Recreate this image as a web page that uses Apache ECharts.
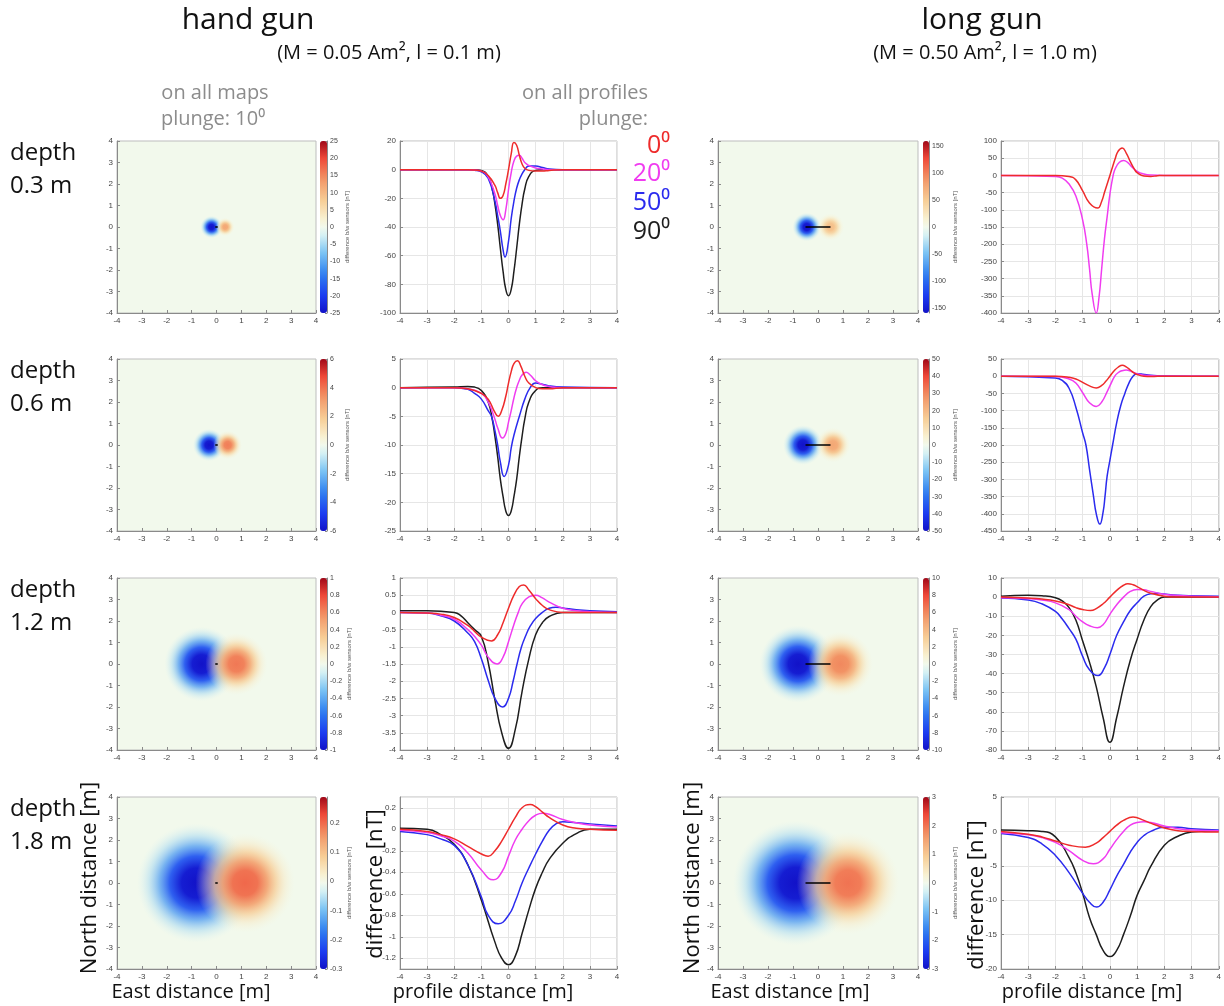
<!DOCTYPE html>
<html>
<head>
<meta charset="utf-8">
<title>hand gun / long gun</title>
<script src="https://cdn.jsdelivr.net/npm/echarts@6/dist/echarts.min.js"></script>
<style>
html, body { margin: 0; padding: 0; background: #fff; }
#main { width: 1224px; height: 1006px; }
</style>
</head>
<body>
<div id="main"></div>
<script>
// profiles: [profile distance m, difference nT], plunge 0 / 20 / 50 / 90 deg
var hand03Red = [[-4,0],[-1.5,0],[-1.25,-0.3],[-1,-1],[-0.75,-4],[-0.5,-11],[-0.4,-16],[-0.3,-20],[-0.2,-18],[-0.1,-10],[0,0],[0.1,11],[0.2,19],[0.3,17],[0.4,10],[0.5,4],[0.6,1],[0.75,-0.5],[1,-1],[1.25,-1],[1.5,-0.5],[2,0],[4,0]];
var hand03Mag = [[-4,0],[-1.5,0],[-1.25,-0.3],[-1,-1],[-0.75,-5],[-0.5,-17],[-0.4,-25],[-0.3,-32],[-0.2,-35],[-0.1,-28],[0,-14],[0.1,-2],[0.2,6],[0.3,9.5],[0.4,10],[0.5,8],[0.6,5],[0.75,3],[1,1.2],[1.25,0.5],[1.5,0],[4,0]];
var hand03Blue = [[-4,0],[-1.5,0],[-1.25,-0.4],[-1,-1.5],[-0.75,-6],[-0.5,-22],[-0.4,-32],[-0.3,-43],[-0.2,-56],[-0.13,-61],[0,-50],[0.1,-34],[0.2,-22],[0.3,-13],[0.4,-7],[0.5,-3],[0.6,0],[0.75,2.5],[1,2.5],[1.25,1.5],[1.5,0.5],[2,0],[4,0]];
var hand03Black = [[-4,0],[-1.25,0],[-1,-0.5],[-0.75,-4.7],[-0.6,-13.5],[-0.5,-24],[-0.4,-38],[-0.3,-55],[-0.2,-71],[-0.1,-83.5],[0,-88],[0.1,-83.5],[0.2,-71],[0.3,-55],[0.4,-38],[0.5,-24],[0.6,-13.5],[0.75,-4.7],[1,-0.5],[1.25,0],[4,0]];

var hand06Red = [[-4,0],[-2,0],[-1.5,-0.2],[-1,-1],[-0.75,-2],[-0.5,-4.3],[-0.38,-5],[-0.25,-4],[-0.1,-1.5],[0,0.8],[0.1,2.8],[0.2,4.2],[0.33,4.7],[0.45,3.8],[0.6,2],[0.75,0.8],[1,0],[1.25,-0.2],[1.5,-0.2],[2,0],[4,0]];
var hand06Mag = [[-4,0],[-2,0],[-1.5,-0.2],[-1,-1],[-0.75,-2.5],[-0.5,-5.5],[-0.4,-7],[-0.22,-8.8],[-0.1,-8],[0,-6],[0.1,-4],[0.2,-1.8],[0.3,0],[0.4,1.3],[0.5,2.2],[0.65,2.7],[0.8,2.2],[1,1.2],[1.25,0.5],[1.5,0.2],[2,0],[4,0]];
var hand06Blue = [[-4,0],[-2,0],[-1.5,-0.3],[-1.25,-1],[-1,-2],[-0.75,-4],[-0.63,-5],[-0.5,-7.5],[-0.4,-10],[-0.3,-13],[-0.16,-15.5],[0,-13.5],[0.1,-10.5],[0.2,-8.3],[0.4,-5],[0.6,-2],[0.8,0],[1,0.8],[1.25,0.6],[1.5,0.3],[2,0.1],[4,0]];
var hand06Black = [[-4,0],[-2,0.1],[-1.5,0.2],[-1.25,0.1],[-1,-0.5],[-0.75,-2.5],[-0.6,-5.5],[-0.5,-8.5],[-0.4,-12],[-0.3,-16],[-0.2,-19],[-0.1,-21.5],[0,-22.3],[0.1,-21.5],[0.2,-19],[0.3,-16],[0.4,-12],[0.5,-8.5],[0.6,-5.5],[0.75,-2.5],[1,-0.5],[1.25,0],[4,0]];

var hand12Red = [[-4,0],[-3,-0.02],[-2.5,-0.05],[-2,-0.15],[-1.5,-0.38],[-1.25,-0.55],[-1,-0.72],[-0.63,-0.83],[-0.4,-0.65],[-0.2,-0.3],[0,0.12],[0.2,0.5],[0.4,0.75],[0.56,0.8],[0.75,0.65],[1,0.4],[1.25,0.2],[1.5,0.08],[2,0],[4,0]];
var hand12Mag = [[-4,0],[-3,-0.02],[-2.5,-0.08],[-2,-0.2],[-1.5,-0.5],[-1.25,-0.7],[-1,-0.95],[-0.75,-1.3],[-0.42,-1.5],[-0.2,-1.3],[0,-0.85],[0.2,-0.35],[0.36,0],[0.5,0.25],[0.75,0.45],[1,0.5],[1.25,0.42],[1.5,0.3],[2,0.12],[2.5,0.05],[3,0.02],[4,0]];
var hand12Blue = [[-4,0],[-3,-0.02],[-2.5,-0.1],[-2,-0.25],[-1.5,-0.6],[-1.25,-0.85],[-1,-1.35],[-0.75,-1.97],[-0.5,-2.5],[-0.22,-2.75],[0,-2.5],[0.17,-2],[0.3,-1.55],[0.48,-1],[0.65,-0.65],[0.8,-0.4],[1,-0.18],[1.25,0],[1.5,0.12],[1.75,0.15],[2,0.13],[2.5,0.08],[3,0.05],[4,0.02]];
var hand12Black = [[-4,0.05],[-3,0.05],[-2,0],[-1.75,-0.1],[-1.5,-0.3],[-1.25,-0.5],[-1,-0.7],[-0.75,-1.45],[-0.5,-2.55],[-0.25,-3.5],[0,-3.95],[0.25,-3.4],[0.5,-2.3],[0.75,-1.35],[1,-0.65],[1.25,-0.3],[1.5,-0.12],[2,0],[4,0]];

var hand18Red = [[-4,0],[-3,-0.02],[-2.5,-0.05],[-2,-0.09],[-1.5,-0.16],[-1,-0.23],[-0.75,-0.25],[-0.5,-0.2],[-0.25,-0.11],[0,0],[0.25,0.11],[0.5,0.2],[0.8,0.23],[1,0.21],[1.25,0.16],[1.5,0.11],[2,0.04],[2.5,0.01],[3,0],[4,-0.01]];
var hand18Mag = [[-4,-0.01],[-3,-0.03],[-2.5,-0.06],[-2,-0.11],[-1.5,-0.22],[-1,-0.38],[-0.56,-0.47],[-0.25,-0.4],[0,-0.25],[0.25,-0.1],[0.5,0],[0.75,0.08],[1,0.13],[1.25,0.15],[1.5,0.14],[2,0.09],[2.5,0.06],[3,0.04],[4,0.02]];
var hand18Blue = [[-4,-0.02],[-3,-0.05],[-2.5,-0.09],[-2,-0.15],[-1.5,-0.33],[-1,-0.63],[-0.75,-0.8],[-0.38,-0.88],[0,-0.8],[0.25,-0.67],[0.5,-0.5],[0.75,-0.36],[1,-0.23],[1.25,-0.11],[1.5,-0.01],[1.75,0.05],[2,0.07],[2.5,0.06],[3,0.05],[4,0.03]];
var hand18Black = [[-4,0.01],[-3,0],[-2.5,-0.05],[-2,-0.14],[-1.5,-0.33],[-1,-0.66],[-0.5,-1.05],[-0.25,-1.2],[0,-1.26],[0.25,-1.18],[0.5,-0.97],[0.75,-0.75],[1,-0.55],[1.25,-0.4],[1.5,-0.28],[2,-0.13],[2.5,-0.04],[3,0],[4,0]];

var long03Red = [[-4,0],[-2,0],[-1.5,-3],[-1.25,-13],[-1,-45],[-0.75,-80],[-0.45,-95],[-0.3,-75],[-0.2,-50],[-0.1,-25],[0,0],[0.1,25],[0.2,50],[0.3,70],[0.45,80],[0.6,65],[0.75,40],[0.9,18],[1,8],[1.25,-2],[1.5,-3],[1.75,-1],[2,0],[4,0]];
var long03Mag = [[-4,0],[-2,-3],[-1.75,-8],[-1.5,-25],[-1.25,-60],[-1,-130],[-0.85,-200],[-0.75,-270],[-0.65,-345],[-0.5,-400],[-0.4,-355],[-0.3,-270],[-0.2,-185],[-0.1,-120],[0,-55],[0.12,0],[0.2,20],[0.35,38],[0.5,43],[0.65,38],[0.8,25],[1,12],[1.25,4],[1.5,1],[2,0],[4,0]];

var long06Red = [[-4,0],[-2,0],[-1.5,-3],[-1.25,-8],[-1,-18],[-0.75,-28],[-0.5,-34],[-0.3,-27],[-0.15,-15],[0,0],[0.15,15],[0.3,26],[0.46,32],[0.6,27],[0.75,18],[0.9,9],[1,5],[1.25,0],[1.5,-1],[2,0],[4,0]];
var long06Mag = [[-4,0],[-2,-1],[-1.5,-8],[-1.25,-20],[-1,-48],[-0.75,-77],[-0.5,-88],[-0.3,-75],[-0.1,-45],[0,-28],[0.18,0],[0.3,10],[0.45,16],[0.6,18],[0.75,15],[0.9,10],[1,7],[1.25,3],[1.5,1.5],[2,0.5],[4,0]];
var long06Blue = [[-4,0],[-2,-5],[-1.75,-12],[-1.5,-35],[-1.25,-90],[-1,-165],[-0.88,-200],[-0.75,-270],[-0.6,-350],[-0.5,-400],[-0.37,-430],[-0.25,-395],[-0.18,-350],[-0.1,-290],[0,-245],[0.1,-200],[0.25,-135],[0.4,-85],[0.55,-50],[0.7,-20],[0.85,0],[1,7],[1.2,6],[1.5,3],[2,1],[3,0],[4,0]];

var long12Red = [[-4,0],[-3,-0.5],[-2.5,-1],[-2,-2],[-1.5,-4],[-1.25,-5.5],[-1,-6.5],[-0.71,-7],[-0.5,-6],[-0.25,-3.5],[0,0],[0.25,3.5],[0.5,6.2],[0.66,7],[0.85,6.5],[1,5.5],[1.25,3.5],[1.5,2],[2,0.5],[2.5,0],[4,0]];
var long12Mag = [[-4,-0.3],[-3,-0.8],[-2.5,-1.5],[-2,-3],[-1.5,-6.5],[-1.25,-10],[-1,-13],[-0.75,-15],[-0.46,-16],[-0.25,-14.5],[0,-9],[0.25,-4],[0.5,0],[0.75,3],[1,4],[1.25,3.8],[1.5,3],[2,1.5],[2.5,0.8],[3,0.5],[4,0.2]];
var long12Blue = [[-4,-0.5],[-3,-1.5],[-2.5,-3.5],[-2,-7.5],[-1.75,-11.5],[-1.5,-16.5],[-1.25,-22],[-1,-31],[-0.75,-38],[-0.43,-41],[-0.2,-37],[0,-30],[0.25,-20],[0.5,-13],[0.75,-7],[1,-3],[1.25,0.5],[1.5,1.8],[1.75,2],[2,1.6],[2.5,1],[3,0.7],[4,0.4]];
var long12Black = [[-4,0.5],[-3,1],[-2.5,0.7],[-2,-0.3],[-1.75,-2],[-1.5,-5.5],[-1.25,-12],[-1,-23],[-0.75,-34],[-0.5,-47],[-0.25,-63],[0,-76],[0.25,-63],[0.5,-47],[0.75,-33],[1,-22],[1.25,-12],[1.5,-5],[1.75,-1.5],[2,0],[3,0],[4,0]];

var long18Red = [[-4,0],[-3,-0.4],[-2.5,-0.8],[-2,-1.4],[-1.5,-2],[-0.9,-2.3],[-0.5,-1.7],[-0.25,-0.9],[0,0],[0.25,0.9],[0.5,1.6],[0.85,2.1],[1.25,1.6],[1.5,1.2],[2,0.5],[2.5,0.1],[3,0],[4,-0.1]];
var long18Mag = [[-4,-0.2],[-3,-0.5],[-2.5,-0.9],[-2,-1.6],[-1.5,-2.8],[-1,-4.2],[-0.61,-4.7],[-0.25,-4],[0,-2.6],[0.25,-1.2],[0.5,0],[0.75,0.9],[1,1.3],[1.25,1.4],[1.5,1.3],[2,0.8],[2.5,0.4],[3,0.2],[4,0.1]];
var long18Blue = [[-4,-0.3],[-3,-0.9],[-2.5,-1.8],[-2,-3.5],[-1.5,-6],[-1,-9],[-0.75,-10.3],[-0.49,-11],[-0.25,-10.3],[0,-8.5],[0.25,-6.5],[0.5,-4.8],[0.75,-3],[1,-1.6],[1.25,-0.6],[1.5,0],[2,0.6],[2.5,0.6],[3,0.4],[4,0.2]];
var long18Black = [[-4,0.2],[-3,0.1],[-2.5,0],[-2,-0.8],[-1.5,-3.8],[-1.25,-6],[-1,-9],[-0.75,-12.5],[-0.5,-15],[-0.25,-17.3],[0,-18.2],[0.25,-17.3],[0.5,-15],[0.75,-12.3],[1,-9.3],[1.25,-7.2],[1.5,-5.1],[2,-2],[2.5,-0.7],[3,-0.1],[4,0.1]];

// maps: anomaly blobs [east m, north m, peak nT, diameter m]
var hand03Blobs = [[-0.2,0,-25,0.9],[0.35,0,12,0.75]];
var hand06Blobs = [[-0.3,0,-6,1.3],[0.45,0,3.8,1.15]];
var hand12Blobs = [[-0.6,0,-1,3.0],[0.8,0,0.65,2.5]];
var hand18Blobs = [[-0.8,0,-0.3,4.8],[1.15,0,0.21,4.0]];
var long03Blobs = [[-0.45,0,-160,1.15],[0.5,0,60,1.1]];
var long06Blobs = [[-0.6,0,-50,1.6],[0.6,0,24,1.4]];
var long12Blobs = [[-0.8,0,-10,3.1],[0.9,0,6,2.6]];
var long18Blobs = [[-0.9,0,-3,5.0],[1.2,0,2,4.1]];
// gun on the map (east m, north m)
var gunHand = [[-0.05,0],[0.05,0]];
var gunLong = [[-0.5,0],[0.5,0]];

var depthLabels = ['0.3 m', '0.6 m', '1.2 m', '1.8 m'];
var plungeLabels = ['0⁰', '20⁰', '50⁰', '90⁰'];
var lineColors = ['#ee2b2b', '#f03cf0', '#2b2bee', '#1e1e1e'];

// axis ranges
var mapRange = {min: -4, max: 4, interval: 1};
var handProfRange = [{min:-100,max:20,interval:20},{min:-25,max:5,interval:5},{min:-4,max:1,interval:0.5},{min:-1.3,max:0.3,split:8,hideMin:true,hideMax:true}];
var longProfRange = [{min:-400,max:100,interval:50},{min:-450,max:50,interval:50},{min:-80,max:10,interval:10},{min:-20,max:5,interval:5}];
var handBarRange = [{min:-25,max:25,interval:5},{min:-6,max:6,interval:2},{min:-1,max:1,interval:0.2},{min:-0.3,max:0.29,split:6,hideMax:true}];
var longBarRange = [{min:-160,max:160,split:6,hideMin:true,hideMax:true},{min:-50,max:50,interval:10},{min:-10,max:10,interval:2},{min:-3,max:3,interval:1}];

var panels = {
    hand: {
        profiles: [[hand03Red,hand03Mag,hand03Blue,hand03Black],[hand06Red,hand06Mag,hand06Blue,hand06Black],[hand12Red,hand12Mag,hand12Blue,hand12Black],[hand18Red,hand18Mag,hand18Blue,hand18Black]],
        blobs: [hand03Blobs,hand06Blobs,hand12Blobs,hand18Blobs],
        gun: gunHand, profRange: handProfRange, barRange: handBarRange,
        map: 117, mapW: 199, bar: 320, barW: 7, nameGap: 17, prof: 400, profW: 217
    },
    long: {
        profiles: [[long03Red,long03Mag],[long06Red,long06Mag,long06Blue],[long12Red,long12Mag,long12Blue,long12Black],[long18Red,long18Mag,long18Blue,long18Black]],
        blobs: [long03Blobs,long06Blobs,long12Blobs,long18Blobs],
        gun: gunLong, profRange: longProfRange, barRange: longBarRange,
        map: 718, mapW: 200, bar: 923, barW: 6, nameGap: 23, prof: 1001, profW: 218
    }
};
var rowTop = [141, 359, 578, 797];
var plotH = 172;

// red-blue colour map of the difference maps
var cmapStops = [[-1,[18,18,200]],[-0.8,[28,60,240]],[-0.55,[48,128,240]],[-0.3,[124,196,244]],[-0.1,[212,240,244]],[0,[242,249,236]],[0.1,[248,240,208]],[0.3,[247,207,152]],[0.55,[242,152,104]],[0.8,[238,72,56]],[1,[160,8,24]]];
function cmapRgb(t) {
    t = Math.max(-1, Math.min(1, t));
    for (var i = 1; i < cmapStops.length; i++) {
        if (t <= cmapStops[i][0]) {
            var a = cmapStops[i - 1], b = cmapStops[i];
            var f = (t - a[0]) / (b[0] - a[0]);
            return a[1].map(function (v, j) { return Math.round(v + (b[1][j] - v) * f); });
        }
    }
    return [160, 8, 24];
}
function cmap(t, alpha) {
    var c = cmapRgb(t);
    return 'rgba(' + c.join(',') + ',' + (alpha == null ? 1 : alpha) + ')';
}
var cmapColors = [];
for (var i = 0; i <= 20; i++) cmapColors.push(cmap(-1 + i * 0.1));

// blob fill: saturated core, soft fading halo
function blobColor(t) {
    return {type: 'radial', x: 0.5, y: 0.5, r: 0.5, colorStops: [
        {offset: 0, color: cmap(t)},
        {offset: 0.25, color: cmap(t * 0.95)},
        {offset: 0.45, color: cmap(t * 0.7, 0.95)},
        {offset: 0.62, color: cmap(t * 0.45, 0.75)},
        {offset: 0.8, color: cmap(t * 0.25, 0.4)},
        {offset: 1, color: cmap(t * 0.1, 0)}
    ]};
}

var grid = [], xAxis = [], yAxis = [], series = [], visualMap = [];
function addGrid(left, top, width, height, bg, show) {
    grid.push({left: left, top: top, width: width, height: height, show: show,
        backgroundColor: bg, borderColor: '#bdbdbd', borderWidth: 1});
    return grid.length - 1;
}
function valAxis(gi, r, split, pos) {
    var a = {
        gridIndex: gi, type: 'value', min: r.min, max: r.max,
        axisLine: {show: true, onZero: false, lineStyle: {color: '#8a8a8a', width: 1}},
        axisTick: {show: true, inside: true, length: 3, lineStyle: {color: '#8a8a8a'}},
        axisLabel: {fontSize: 8, color: '#444', margin: 4, fontFamily: 'Liberation Sans'},
        splitLine: {show: split, lineStyle: {color: '#e6e6e6', width: 1}}
    };
    if (r.interval) a.interval = r.interval; else a.splitNumber = r.split;
    if (r.hideMin) a.axisLabel.showMinLabel = false;
    if (r.hideMax) a.axisLabel.showMaxLabel = false;
    if (pos) a.position = pos;
    return a;
}

['hand', 'long'].forEach(function (gun) {
    var p = panels[gun];
    for (var r = 0; r < 4; r++) {
        var top = rowTop[r];
        var cb = p.barRange[r];
        var vmax = Math.max(-cb.min, cb.max);
        // map
        var gm = addGrid(p.map, top, p.mapW, plotH, '#f2f9ec', true);
        xAxis.push(valAxis(gm, mapRange, false));
        yAxis.push(valAxis(gm, mapRange, false));
        var pxm = p.mapW / 8;
        series.push({
            type: 'scatter', xAxisIndex: gm, yAxisIndex: gm, silent: true, symbol: 'circle',
            itemStyle: {opacity: 1},
            data: p.blobs[r].map(function (b) {
                return {value: b, symbolSize: b[3] * pxm, itemStyle: {color: blobColor(b[2] / vmax), opacity: 1}};
            })
        });
        series.push({
            type: 'line', xAxisIndex: gm, yAxisIndex: gm, data: p.gun, symbol: 'none', silent: true,
            lineStyle: {color: '#000', width: 1.5}
        });
        // colour bar
        var gb = addGrid(p.bar, top, p.barW, plotH, 'transparent', false);
        xAxis.push({gridIndex: gb, type: 'value', show: false});
        var ya = valAxis(gb, cb, false, 'right');
        ya.axisLabel.fontSize = 7;
        ya.axisLabel.margin = 3;
        ya.axisTick.length = 2;
        ya.name = 'difference b/w sensors [nT]';
        ya.nameLocation = 'middle';
        ya.nameRotate = 90;
        ya.nameGap = p.nameGap;
        ya.nameTextStyle = {fontSize: 6, color: '#555'};
        yAxis.push(ya);
        series.push({type: 'scatter', xAxisIndex: gb, yAxisIndex: gb, data: []});
        visualMap.push({
            type: 'continuous', min: cb.min, max: cb.max, seriesIndex: series.length - 1,
            left: p.bar, top: top, itemWidth: p.barW, itemHeight: plotH, padding: 0,
            calculable: false, hoverLink: false, inRange: {color: cmapColors}
        });
        // profile
        var gp = addGrid(p.prof, top, p.profW, plotH, '#fff', true);
        xAxis.push(valAxis(gp, mapRange, true));
        yAxis.push(valAxis(gp, p.profRange[r], true));
        p.profiles[r].forEach(function (d, k) {
            series.push({
                type: 'line', xAxisIndex: gp, yAxisIndex: gp, data: d,
                smooth: true, symbol: 'none', silent: true, z: 6 - k,
                lineStyle: {color: lineColors[k], width: 1.5}
            });
        });
    }
});

// texts
var font = 'Open Sans';
function txt(x, y, s, size, color, align, rot) {
    return {type: 'text', x: x, y: y, rotation: rot || 0, silent: true,
        style: {text: s, fontSize: size, fontFamily: font, fill: color, align: align || 'center', verticalAlign: 'middle'}};
}
var texts = [
    txt(248, 20, 'hand gun', 30, '#111'),
    txt(389, 53, '(M = 0.05 Am², l = 0.1 m)', 20, '#111'),
    txt(982, 20, 'long gun', 30, '#111'),
    txt(985, 53, '(M = 0.50 Am², l = 1.0 m)', 20, '#111'),
    txt(215, 93, 'on all maps', 20, '#8c8c8c'),
    txt(213, 119, 'plunge: 10⁰', 20, '#8c8c8c'),
    txt(648, 93, 'on all profiles', 20, '#8c8c8c', 'right'),
    txt(648, 119, 'plunge:', 20, '#8c8c8c', 'right'),
    txt(90, 878, 'North distance [m]', 22, '#111', 'center', Math.PI / 2),
    txt(191, 992, 'East distance [m]', 20, '#111'),
    txt(376, 884, 'difference [nT]', 22, '#111', 'center', Math.PI / 2),
    txt(483, 992, 'profile distance [m]', 20, '#111'),
    txt(693, 878, 'North distance [m]', 22, '#111', 'center', Math.PI / 2),
    txt(790, 992, 'East distance [m]', 20, '#111'),
    txt(977, 895, 'difference [nT]', 22, '#111', 'center', Math.PI / 2),
    txt(1092, 992, 'profile distance [m]', 20, '#111')
];
var plungeY = [146, 174, 203, 232];
plungeLabels.forEach(function (s, k) {
    texts.push(txt(670, plungeY[k], s, 25, lineColors[k], 'right'));
});
depthLabels.forEach(function (s, r) {
    texts.push(txt(10, rowTop[r] + 12, 'depth', 24, '#111', 'left'));
    texts.push(txt(10, rowTop[r] + 45, s, 24, '#111', 'left'));
});

var myChart = echarts.init(document.getElementById('main'));
var option = {
    animation: false,
    backgroundColor: '#fff',
    grid: grid,
    xAxis: xAxis,
    yAxis: yAxis,
    visualMap: visualMap,
    series: series,
    graphic: {elements: texts}
};
option && myChart.setOption(option);
</script>
</body>
</html>
